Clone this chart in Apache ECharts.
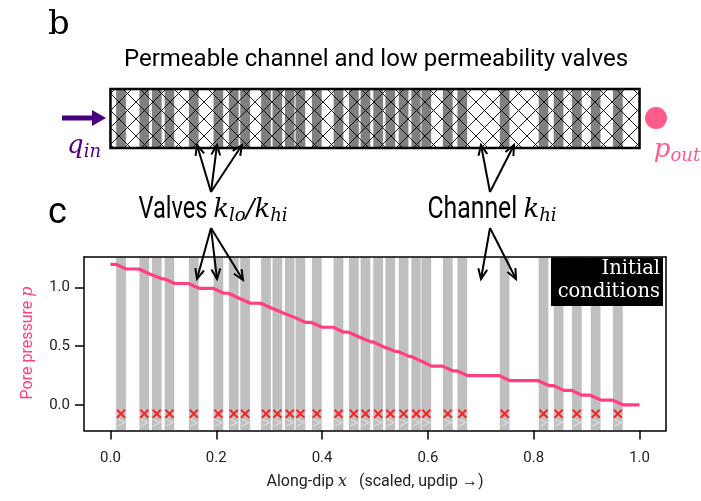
<!DOCTYPE html>
<html><head><meta charset="utf-8">
<script src="https://cdn.jsdelivr.net/npm/echarts@6/dist/echarts.min.js"></script>
<style>html,body{margin:0;padding:0;background:#fff}#c{width:701px;height:501px}</style>
</head><body><div id="c"></div>
<script>
// ---- data ----
const valveCenters = [0.020,0.064,0.0875,0.1115,0.1575,0.204,0.233,0.2545,0.294,0.3155,0.339,0.359,0.390,0.431,0.460,0.482,0.506,0.529,0.554,0.578,0.597,0.6375,0.665,0.745,0.8185,0.847,0.8815,0.917,0.959];
const valveWidth = 0.02;
// pore pressure on the plateau before the first valve and after each valve
const plateauPressure = [1.195,1.155,1.113,1.072,1.032,0.991,0.949,0.907,0.864,0.824,0.783,0.742,0.701,0.660,0.618,0.577,0.536,0.495,0.454,0.413,0.371,0.330,0.289,0.249,0.206,0.165,0.124,0.083,0.041,0.0];
const crossLevel = -0.075;
const chevronLevel = -0.15;
const xTicks = [0, 0.2, 0.4, 0.6, 0.8, 1.0];
const yTicks = [0, 0.5, 1.0];
const X_MIN = -0.05, X_MAX = 1.05, Y_MIN = -0.217, Y_MAX = 1.257;

// ---- build line from the arrays ----
const pressureLine = [[0, plateauPressure[0]]];
let prevEnd = 0;
valveCenters.forEach((c, i) => {
  const s = Math.max(c - valveWidth / 2, prevEnd);
  const e = c + valveWidth / 2;
  pressureLine.push([s, plateauPressure[i]]);
  pressureLine.push([e, plateauPressure[i + 1]]);
  prevEnd = e;
});
pressureLine.push([1.0, plateauPressure[plateauPressure.length - 1]]);

const PINK = '#ff3f7f';
const PINK2 = '#ff5c8d';
const PURPLE = '#4b0082';

function hatchCanvas(P) {
  const c = document.createElement('canvas'); c.width = P; c.height = P;
  const g = c.getContext('2d'); g.strokeStyle = '#000'; g.lineWidth = 0.9;
  g.beginPath(); g.moveTo(0, 0); g.lineTo(P, P); g.moveTo(P, 0); g.lineTo(0, P); g.stroke();
  return c;
}
const hatch = hatchCanvas(17);

const mctx = document.createElement('canvas').getContext('2d');
function textRun(parts, x, y, align, z) {
  const widths = parts.map(p => { mctx.font = p.font; return mctx.measureText(p.text).width * (p.sx || 1); });
  const total = widths.reduce((a, b) => a + b, 0);
  let cx = align === 'center' ? x - total / 2 : (align === 'right' ? x - total : x);
  return parts.map((p, i) => {
    const el = { type: 'text', x: cx, y: y + (p.dy || 0), scaleX: p.sx || 1, silent: true, z: z || 100,
      style: { text: p.text, font: p.font, fill: p.color || '#000', align: 'left', verticalAlign: 'middle' } };
    cx += widths[i];
    return el;
  });
}
function arrow(x1, y1, x2, y2) {
  const ang = Math.atan2(y2 - y1, x2 - x1), L = 11, a = 0.42;
  const h1 = [x2 - L * Math.cos(ang - a), y2 - L * Math.sin(ang - a)];
  const h2 = [x2 - L * Math.cos(ang + a), y2 - L * Math.sin(ang + a)];
  return [
    { type: 'line', silent: true, z: 100, shape: { x1, y1, x2, y2 }, style: { stroke: '#000', lineWidth: 2 } },
    { type: 'polyline', silent: true, z: 100, shape: { points: [h1, [x2, y2], h2] }, style: { stroke: '#000', lineWidth: 2, fill: null } }
  ];
}

const SANS = 'Roboto';
const SERIF_I = 'italic 26px "DejaVu Serif"';
const SUB_I = 'italic 18px "DejaVu Serif"';

let graphics = [];
graphics.push({ type: 'text', x: 48, y: 25, silent: true, style: { text: 'b', font: '34px "DejaVu Serif"', fill: '#000', verticalAlign: 'middle' } });
graphics.push({ type: 'text', x: 48, y: 214, silent: true, style: { text: 'c', font: '36px Roboto', fill: '#000', verticalAlign: 'middle' } });
graphics.push({ type: 'text', x: 376, y: 60, silent: true, style: { text: 'Permeable channel and low permeability valves', font: '24px Roboto', fill: '#000', align: 'center', verticalAlign: 'middle' } });
// q_in arrow
graphics.push({ type: 'polygon', silent: true, shape: { points: [[62, 115.5], [92, 115.5], [92, 110], [106, 118], [92, 126], [92, 120.5], [62, 120.5]] }, style: { fill: PURPLE } });
graphics = graphics.concat(textRun([
  { text: 'q', font: SERIF_I, color: PURPLE },
  { text: 'in', font: SUB_I, color: PURPLE, dy: 6 }
], 84, 146, 'center'));
// p_out
graphics.push({ type: 'circle', silent: true, shape: { cx: 656, cy: 118, r: 11 }, style: { fill: PINK2 } });
graphics = graphics.concat(textRun([
  { text: 'p', font: SERIF_I, color: PINK2 },
  { text: 'out', font: SUB_I, color: PINK2, dy: 6 }
], 677, 150, 'center'));
// Valves / Channel labels
graphics = graphics.concat(textRun([
  { text: 'Valves ', font: '31px Roboto', sx: 0.76 },
  { text: 'k', font: SERIF_I },
  { text: 'lo', font: SUB_I, dy: 6 },
  { text: '/k', font: SERIF_I },
  { text: 'hi', font: SUB_I, dy: 6 }
], 213, 210, 'center'));
graphics = graphics.concat(textRun([
  { text: 'Channel ', font: '31px Roboto', sx: 0.8 },
  { text: 'k', font: SERIF_I },
  { text: 'hi', font: SUB_I, dy: 6 }
], 492, 210, 'center'));
// arrows
[[197, 145], [217, 145], [242, 145]].forEach(t => { graphics = graphics.concat(arrow(211, 192, t[0], t[1])); });
[[197, 279], [217, 279], [243, 280]].forEach(t => { graphics = graphics.concat(arrow(211, 228, t[0], t[1])); });
[[481, 145], [514, 145]].forEach(t => { graphics = graphics.concat(arrow(490, 192, t[0], t[1])); });
[[481, 279], [516, 279]].forEach(t => { graphics = graphics.concat(arrow(490, 228, t[0], t[1])); });
// Initial conditions box
graphics.push({ type: 'rect', silent: true, z: 50, shape: { x: 551, y: 257.5, width: 112, height: 48.5 }, style: { fill: '#000' } });
graphics.push({ type: 'text', silent: true, z: 51, x: 660, y: 269, style: { text: 'Initial', font: '19.5px "DejaVu Serif"', fill: '#fff', align: 'right', verticalAlign: 'middle' } });
graphics.push({ type: 'text', silent: true, z: 51, x: 660, y: 292, style: { text: 'conditions', font: '19.5px "DejaVu Serif"', fill: '#fff', align: 'right', verticalAlign: 'middle' } });
// axis names
graphics = graphics.concat(textRun([
  { text: 'Along-dip ', font: '16px Roboto', color: '#222' },
  { text: 'x', font: 'italic 16px "DejaVu Serif"', color: '#222' },
  { text: '   (scaled, updip \u2192)', font: '16px Roboto', color: '#222' }
], 375, 482, 'center'));
graphics.push({ type: 'group', x: 28, y: 343, rotation: Math.PI / 2, silent: true,
  children: textRun([
    { text: 'Pore pressure ', font: '16px Roboto', color: PINK },
    { text: 'p', font: 'italic 16px "DejaVu Serif"', color: PINK }
  ], 0, 0, 'center') });

const chart = echarts.init(document.getElementById('c'), null, { renderer: 'canvas', width: 701, height: 501 });

const bandRender = (fill, gridY0, gridY1) => (params, api) => {
  const c = api.value(0);
  const p1 = api.coord([c - valveWidth / 2, gridY1]);
  const p2 = api.coord([c + valveWidth / 2, gridY0]);
  return { type: 'rect', shape: { x: p1[0], y: p1[1], width: p2[0] - p1[0], height: p2[1] - p1[1] },
    style: { fill: fill, stroke: '#fff', lineWidth: 0.8 } };
};

const frameLine = { show: true, onZero: false, lineStyle: { color: '#000', width: 1.5 } };
const tickStyle = { show: true, length: 9, lineStyle: { color: '#000', width: 1.5 } };

chart.setOption({
  animation: false,
  backgroundColor: '#fff',
  grid: [
    { left: 84, right: 35, top: 257, bottom: 70.5 },
    { left: 84, right: 35, top: 89, height: 59 }
  ],
  xAxis: [
    { gridIndex: 0, type: 'value', min: X_MIN, max: X_MAX, z: 10, splitLine: { show: false },
      axisLine: frameLine,
      axisTick: Object.assign({}, tickStyle, { customValues: xTicks }),
      axisLabel: { customValues: xTicks, formatter: v => v.toFixed(1), color: '#222', fontFamily: SANS, fontSize: 15, margin: 20 } },
    { gridIndex: 0, type: 'value', position: 'top', min: X_MIN, max: X_MAX, z: 10,
      axisLine: frameLine, axisTick: { show: false }, axisLabel: { show: false }, splitLine: { show: false } },
    { gridIndex: 1, type: 'value', min: X_MIN, max: X_MAX, show: false }
  ],
  yAxis: [
    { gridIndex: 0, type: 'value', min: Y_MIN, max: Y_MAX, z: 10, splitLine: { show: false },
      axisLine: frameLine,
      axisTick: Object.assign({}, tickStyle, { customValues: yTicks }),
      axisLabel: { customValues: yTicks, formatter: v => v.toFixed(1), color: '#222', fontFamily: SANS, fontSize: 15, margin: 14 } },
    { gridIndex: 0, type: 'value', position: 'right', min: Y_MIN, max: Y_MAX, z: 10,
      axisLine: frameLine, axisTick: { show: false }, axisLabel: { show: false }, splitLine: { show: false } },
    { gridIndex: 1, type: 'value', min: 0, max: 1, show: false }
  ],
  series: [
    { type: 'custom', xAxisIndex: 0, yAxisIndex: 0, z: 1, silent: true,
      data: valveCenters.map(c => [c]), encode: { x: 0 },
      renderItem: bandRender('#bfbfbf', Y_MIN, Y_MAX) },
    { type: 'line', xAxisIndex: 0, yAxisIndex: 0, z: 5, silent: true, data: pressureLine,
      symbol: 'none', lineStyle: { color: PINK, width: 3.2 } },
    { type: 'scatter', xAxisIndex: 0, yAxisIndex: 0, z: 4, silent: true,
      data: valveCenters.map(c => [c, crossLevel]),
      symbol: 'path://M0,0L10,10M10,0L0,10', symbolSize: 8,
      itemStyle: { color: 'none', borderColor: '#ff0000', borderWidth: 2 } },
    { type: 'scatter', xAxisIndex: 0, yAxisIndex: 0, z: 4, silent: true,
      data: valveCenters.map(c => [c, chevronLevel]),
      symbol: 'path://M0,0L10,5L0,10', symbolSize: 7,
      itemStyle: { color: 'none', borderColor: '#dedede', borderWidth: 1.5 } },
    { type: 'custom', xAxisIndex: 2, yAxisIndex: 2, z: 1, silent: true,
      data: valveCenters.map(c => [c]), encode: { x: 0 },
      renderItem: bandRender('#808080', 0, 1) },
    { type: 'custom', xAxisIndex: 2, yAxisIndex: 2, z: 3, silent: true,
      data: [[0, 1]], encode: { x: 0 },
      renderItem: (params, api) => {
        const p1 = api.coord([0, 1]), p2 = api.coord([1, 0]);
        return { type: 'rect', shape: { x: p1[0], y: p1[1], width: p2[0] - p1[0], height: p2[1] - p1[1] },
          style: { fill: { image: hatch, repeat: 'repeat' }, stroke: '#000', lineWidth: 2.5 } };
      } }
  ],
  graphic: graphics
});
</script></body></html>
